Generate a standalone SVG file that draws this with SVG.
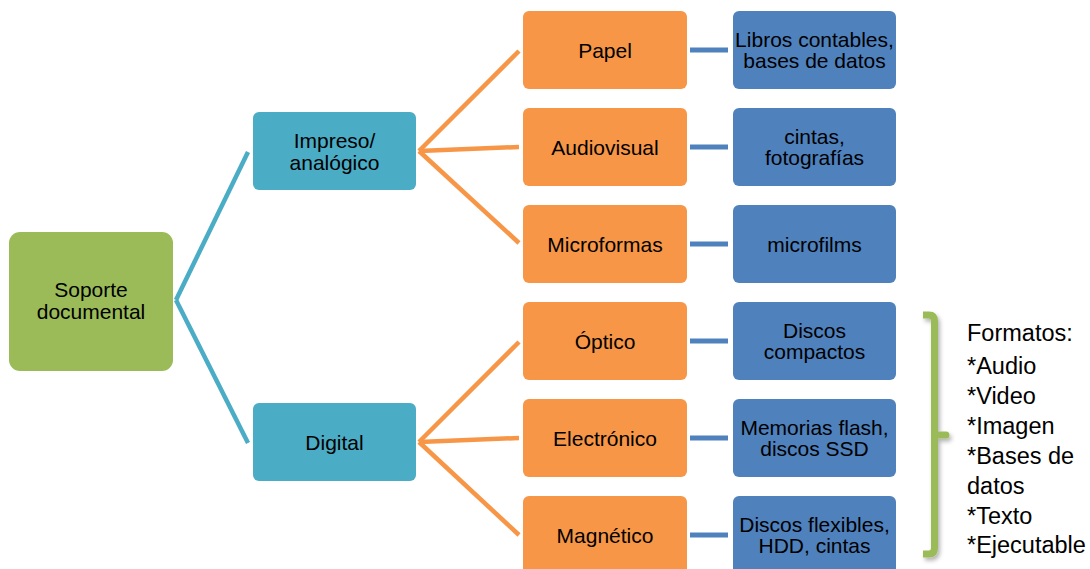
<svg xmlns="http://www.w3.org/2000/svg" width="1090" height="569" viewBox="0 0 1090 569">
<style>
text{font-family:"Liberation Sans",Arial,sans-serif;font-size:21px;fill:#000;text-anchor:middle}
.fmt{font-size:23.5px;text-anchor:start}
.root{fill:#9BBB59}
.lvl1{fill:#4BACC6}
.lvl2{fill:#F79646}
.lvl3{fill:#4F81BD}
.c1{stroke:#4BACC6;stroke-width:4.5;fill:none}
.c2{stroke:#F79646;stroke-width:4.5;fill:none}
.c3{stroke:#4F81BD;stroke-width:5;fill:none}
.br{fill:none;stroke:#9BBB59;stroke-width:7}
</style>
<defs>
<filter id="sh" x="-50%" y="-10%" width="200%" height="120%">
<feDropShadow dx="2" dy="3" stdDeviation="2" flood-color="#000" flood-opacity="0.3"/>
</filter>
</defs>
<rect width="1090" height="569" fill="#fff"/>
<g id="connectors">
<path class="c1" d="M176,300 L248,152"/>
<path class="c1" d="M176,300 L248,443"/>
<path class="c2" d="M419,151 L519,51"/>
<path class="c2" d="M419,151 L519,147"/>
<path class="c2" d="M419,151 L519,243"/>
<path class="c2" d="M419,442 L519,342"/>
<path class="c2" d="M419,442 L519,438"/>
<path class="c2" d="M419,442 L519,535"/>
<path class="c3" d="M690,50 L728,50"/>
<path class="c3" d="M690,147 L728,147"/>
<path class="c3" d="M690,244 L728,244"/>
<path class="c3" d="M690,341 L728,341"/>
<path class="c3" d="M690,438 L728,438"/>
<path class="c3" d="M690,535 L728,535"/>
</g>
<g id="n-root"><rect class="root" x="9" y="232" width="164" height="139" rx="11"/><text x="91" y="297">Soporte</text><text x="91" y="319">documental</text></g>
<g id="n-impreso"><rect class="lvl1" x="253" y="112" width="163" height="78" rx="6"/><text x="334.5" y="147.5">Impreso/</text><text x="334.5" y="169.5">analógico</text></g>
<g id="n-digital"><rect class="lvl1" x="253" y="403" width="163" height="78" rx="6"/><text x="334.5" y="449.5">Digital</text></g>
<g id="n-papel"><rect class="lvl2" x="523" y="11" width="164" height="78" rx="6"/><text x="605" y="57.5">Papel</text></g>
<g id="n-audiovisual"><rect class="lvl2" x="523" y="108" width="164" height="78" rx="6"/><text x="605" y="154.5">Audiovisual</text></g>
<g id="n-microformas"><rect class="lvl2" x="523" y="205" width="164" height="78" rx="6"/><text x="605" y="251.5">Microformas</text></g>
<g id="n-optico"><rect class="lvl2" x="523" y="302" width="164" height="78" rx="6"/><text x="605" y="348.5">Óptico</text></g>
<g id="n-electronico"><rect class="lvl2" x="523" y="399" width="164" height="78" rx="6"/><text x="605" y="445.5">Electrónico</text></g>
<g id="n-magnetico"><rect class="lvl2" x="523" y="496" width="164" height="78" rx="6"/><text x="605" y="542.5">Magnético</text></g>
<g id="n-libros"><rect class="lvl3" x="733" y="11" width="163" height="78" rx="6"/><text x="814.5" y="46.5">Libros contables,</text><text x="814.5" y="67.5">bases de datos</text></g>
<g id="n-cintas"><rect class="lvl3" x="733" y="108" width="163" height="78" rx="6"/><text x="814.5" y="143.5">cintas,</text><text x="814.5" y="164.5">fotografías</text></g>
<g id="n-microfilms"><rect class="lvl3" x="733" y="205" width="163" height="78" rx="6"/><text x="814.5" y="251.5">microfilms</text></g>
<g id="n-discos"><rect class="lvl3" x="733" y="302" width="163" height="78" rx="6"/><text x="814.5" y="337.5">Discos</text><text x="814.5" y="358.5">compactos</text></g>
<g id="n-memorias"><rect class="lvl3" x="733" y="399" width="163" height="78" rx="6"/><text x="814.5" y="434.5">Memorias flash,</text><text x="814.5" y="455.5">discos SSD</text></g>
<g id="n-flexibles"><rect class="lvl3" x="733" y="496" width="163" height="78" rx="6"/><text x="814.5" y="531.5">Discos flexibles,</text><text x="814.5" y="552.5">HDD, cintas</text></g>
<g id="n-bracket" filter="url(#sh)"><path class="br" d="M923,315 L929,315 Q934.5,315 934.5,321 L934.5,548 Q934.5,554 929,554 L923,554"/><path class="br" d="M934.5,435 L946,435" stroke-linecap="round"/></g>
<g id="n-formatos">
<text class="fmt" x="967" y="341">Formatos:</text>
<text class="fmt" x="967" y="374">*Audio</text>
<text class="fmt" x="967" y="404">*Video</text>
<text class="fmt" x="967" y="434">*Imagen</text>
<text class="fmt" x="967" y="464">*Bases de</text>
<text class="fmt" x="967" y="494">datos</text>
<text class="fmt" x="967" y="524">*Texto</text>
<text class="fmt" x="967" y="553">*Ejecutable</text>
</g>
</svg>
